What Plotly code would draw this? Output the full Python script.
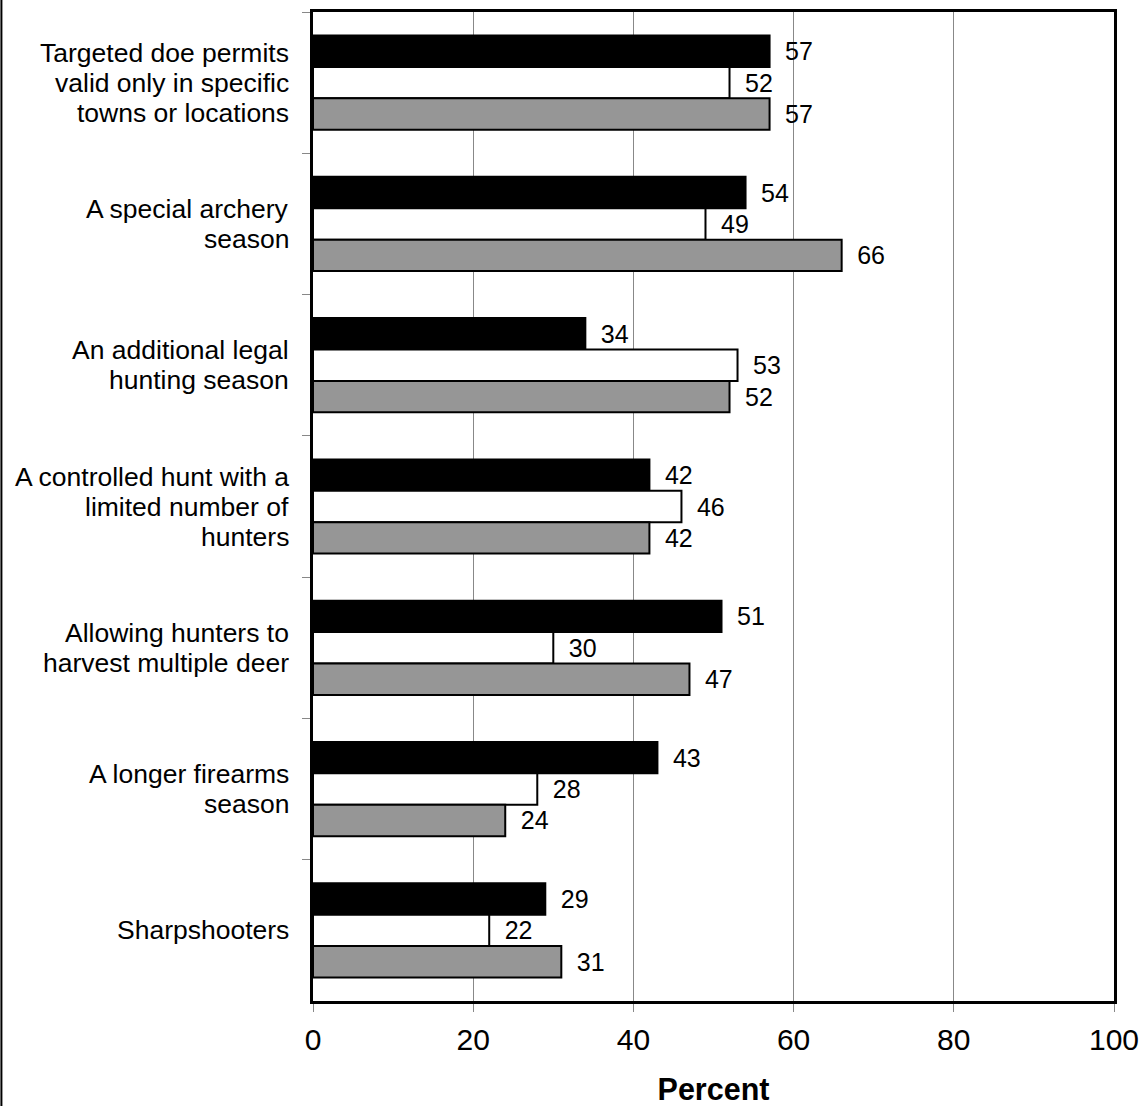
import plotly.graph_objects as go

categories = [
    "Targeted doe permits<br>valid only in specific<br>towns or locations",
    "A special archery<br>season",
    "An additional legal<br>hunting season",
    "A controlled hunt with a<br>limited number of<br>hunters",
    "Allowing hunters to<br>harvest multiple deer",
    "A longer firearms<br>season",
    "Sharpshooters",
]
cat_ids = ["c%d" % i for i in range(len(categories))]

series_names = ["Series 1", "Series 2", "Series 3"]
series1 = [57, 54, 34, 42, 51, 43, 29]
series2 = [52, 49, 53, 46, 30, 28, 22]
series3 = [57, 66, 52, 42, 47, 24, 31]
x_ticks = [0, 20, 40, 60, 80, 100]

colors = ["#000000", "#ffffff", "#969696"]
FONT = "Liberation Sans, Arial, sans-serif"

fig = go.Figure()
for name, vals, col in zip(series_names, [series1, series2, series3], colors):
    fig.add_trace(go.Bar(
        y=cat_ids, x=vals, name=name, orientation="h",
        marker=dict(color=col, line=dict(color="#000000", width=2)),
        text=vals, texttemplate="\u2002%{x}", textposition="outside",
        constraintext="none", cliponaxis=False,
        textfont=dict(family=FONT, size=25, color="#000000"),
        showlegend=False,
    ))

LINE_H = 30
for cid, label in zip(cat_ids, categories):
    lines = label.split("<br>")
    n = len(lines)
    for i, ln in enumerate(lines):
        fig.add_annotation(
            x=-0.028, xref="paper", y=cid, yref="y",
            text=ln, showarrow=False, xanchor="right", yanchor="middle",
            align="center", yshift=((n - 1) / 2 - i) * LINE_H,
            font=dict(family=FONT, size=26.5, color="#000000"),
        )

# left outer border line
fig.add_shape(type="line", xref="paper", yref="paper",
              x0=-0.389, x1=-0.389, y0=-0.11, y1=1.02,
              line=dict(color="#000000", width=2))

fig.update_layout(
    width=1144, height=1106,
    margin=dict(l=313, r=30, t=12, b=105),
    paper_bgcolor="white", plot_bgcolor="white",
    barmode="group", bargap=0.333, bargroupgap=0,
    font=dict(family=FONT, color="#000000"),
    xaxis=dict(
        range=[0, 100], tickvals=x_ticks, ticks="outside", ticklen=8,
        tickcolor="#888888", showgrid=True, gridcolor="#888888", gridwidth=1,
        showline=True, mirror=True, linecolor="#000000", linewidth=3,
        tickfont=dict(family=FONT, size=30, color="#000000"),
        ticklabelstandoff=2,
        title=dict(text="<b>Percent</b>", font=dict(family=FONT, size=30.5, color="#000000"), standoff=27),
        zeroline=False, automargin=False,
    ),
    yaxis=dict(
        categoryorder="array", categoryarray=cat_ids, autorange="reversed",
        showticklabels=False, ticks="outside", ticklen=8, tickcolor="#888888",
        tickson="boundaries", showgrid=False, automargin=False,
        showline=True, mirror=True, linecolor="#000000", linewidth=3,
    ),
)

fig.write_html("out.html", config={"displayModeBar": False},
               post_script="document.body.style.margin='0';document.body.style.overflow='hidden';")
